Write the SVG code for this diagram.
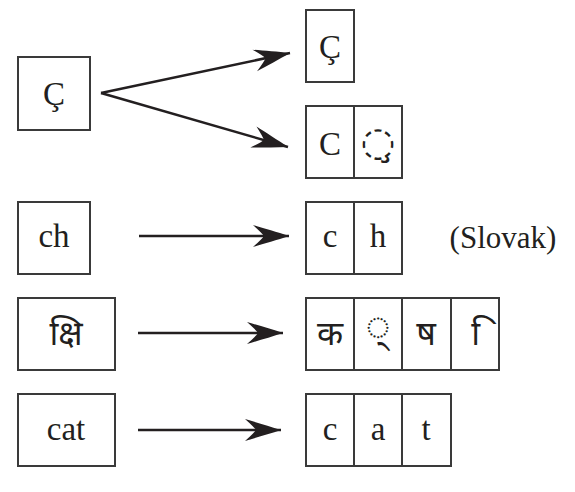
<svg xmlns="http://www.w3.org/2000/svg" width="575" height="492" viewBox="0 0 575 492">
<defs>
<style>
.box{fill:#fff;stroke:#3a3a3a;stroke-width:2}
.t{font-family:'Liberation Serif',serif;font-size:33px;fill:#231f20;text-anchor:middle}
.dv{font-family:'Noto Sans Devanagari','Noto Serif Devanagari',sans-serif;font-size:34px;fill:#231f20;text-anchor:middle}
.dvs{font-family:'Noto Serif Devanagari','Noto Sans Devanagari',serif;font-size:42px;fill:#231f20;text-anchor:middle}
.dc{font-family:'DejaVu Serif','DejaVu Sans',serif;font-size:40px;fill:#231f20;text-anchor:middle}
.ln{stroke:#231f20;stroke-width:2.5;fill:none}
</style>
<marker id="ah" markerUnits="userSpaceOnUse" viewBox="-38 -13 40 26" refX="0" refY="0" markerWidth="40" markerHeight="26" orient="auto">
<path d="M0,0 C-12,-4 -26,-8 -36,-11 Q-27,-3 -25,0 Q-27,3 -36,11 C-26,8 -12,4 0,0 Z" fill="#231f20"/>
</marker>
</defs>
<rect width="575" height="492" fill="#fff"/>
<g id="connectors">
<path class="ln" d="M101,93 L290,53" marker-end="url(#ah)"/>
<path class="ln" d="M101,93 L288,147" marker-end="url(#ah)"/>
<path class="ln" d="M139,236 L289,236" marker-end="url(#ah)"/>
<path class="ln" d="M138,333 L283,333" marker-end="url(#ah)"/>
<path class="ln" d="M138,430 L281,430" marker-end="url(#ah)"/>
</g>
<g id="n-c-cedilla">
<rect class="box" x="18" y="57" width="72" height="73"/>
<text class="t" x="54" y="105">Ç</text>
</g>
<g id="out-c-cedilla">
<rect class="box" x="306" y="10" width="48" height="72"/>
<text class="t" x="330" y="58">Ç</text>
</g>
<g id="out-c-plus-cedilla">
<rect class="box" x="306" y="106" width="48" height="72"/>
<rect class="box" x="354" y="106" width="48" height="72"/>
<text class="t" x="330" y="155">C</text>
<text class="dc" x="378" y="155">◌̧</text>
</g>
<g id="n-ch">
<rect class="box" x="18" y="202" width="72" height="72"/>
<text class="t" x="54" y="247">ch</text>
</g>
<g id="out-ch">
<rect class="box" x="306" y="202" width="48" height="72"/>
<rect class="box" x="354" y="202" width="48" height="72"/>
<text class="t" x="330" y="247">c</text>
<text class="t" x="378" y="247">h</text>
<text class="t" x="503" y="248" style="font-size:31px">(Slovak)</text>
</g>
<g id="n-kshi">
<rect class="box" x="18" y="298" width="97" height="72"/>
<text class="dv" x="66" y="345">क्षि</text>
</g>
<g id="out-kshi">
<rect class="box" x="306" y="298" width="48" height="72"/>
<rect class="box" x="354" y="298" width="48" height="72"/>
<rect class="box" x="402" y="298" width="49" height="72"/>
<rect class="box" x="451" y="298" width="48" height="72"/>
<text class="dv" x="330" y="345">क</text>
<text class="dvs" x="378" y="340">◌्</text>
<text class="dv" x="426" y="345">ष</text>
<text class="dv" x="480" y="345">&#160;ि</text>
</g>
<g id="n-cat">
<rect class="box" x="18" y="394" width="97" height="72"/>
<text class="t" x="66" y="440">cat</text>
</g>
<g id="out-cat">
<rect class="box" x="306" y="394" width="48" height="72"/>
<rect class="box" x="354" y="394" width="48" height="72"/>
<rect class="box" x="402" y="394" width="49" height="72"/>
<text class="t" x="330" y="440">c</text>
<text class="t" x="378" y="440">a</text>
<text class="t" x="426" y="440">t</text>
</g>
</svg>
